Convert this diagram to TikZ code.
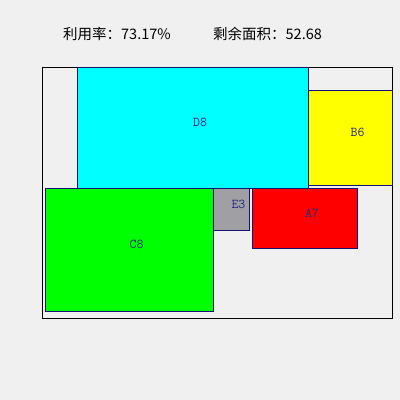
\documentclass[tikz,border=0pt]{standalone}
\usepackage{fontspec}
\newfontfamily\cjk{Noto Sans CJK SC}
\definecolor{bgc}{RGB}{240,240,240}
\definecolor{edgec}{RGB}{20,20,110}
\definecolor{lblc}{RGB}{40,40,128}
\definecolor{grayc}{RGB}{160,160,164}
\definecolor{cyanc}{RGB}{0,255,255}
\definecolor{yellowc}{RGB}{255,255,0}
\definecolor{greenc}{RGB}{0,255,0}
\definecolor{redc}{RGB}{255,0,0}
\begin{document}
\begin{tikzpicture}[x=1pt,y=-1pt,
  part/.style={draw=edgec, line width=1pt, inner sep=0pt, outer sep=0pt, anchor=north west},
  lbl/.style={text=lblc, font=\ttfamily\fontsize{13.5}{13.5}\selectfont, inner sep=0pt},
  ttl/.style={font=\cjk\fontsize{14.5}{15}\selectfont, anchor=west, inner sep=0pt}]
\fill[bgc] (0,0) rectangle (400,400);
\useasboundingbox (0,0) rectangle (400,400);
\node[ttl] (t1) at (63,34) {利用率：73.17\%};
\node[ttl] (t2) at (213,34) {剩余面积：52.68};
\node[draw=black, line width=1pt, inner sep=0pt, outer sep=0pt, anchor=north west, minimum width=350pt, minimum height=251pt] (sheet) at (42,67) {};
\node[part, fill=cyanc, minimum width=231pt, minimum height=121pt] (d8) at (77,67) {};
\node[part, fill=yellowc, minimum width=84pt, minimum height=95pt] (b6) at (308,90) {};
\node[part, fill=greenc, minimum width=168pt, minimum height=123pt] (c8) at (45,188) {};
\node[part, fill=grayc, minimum width=36pt, minimum height=42pt] (e3) at (213,188) {};
\node[part, fill=redc, minimum width=105pt, minimum height=60pt] (a7) at (252,188) {};
\node[lbl] (ld8) at (200,122.5) {D8};
\node[lbl] (lb6) at (357.5,132.5) {B6};
\node[lbl] (lc8) at (136.5,244.5) {C8};
\node[lbl] (le3) at (238.5,204) {E3};
\node[lbl] (la7) at (312,213.5) {A7};
\end{tikzpicture}
\end{document}
